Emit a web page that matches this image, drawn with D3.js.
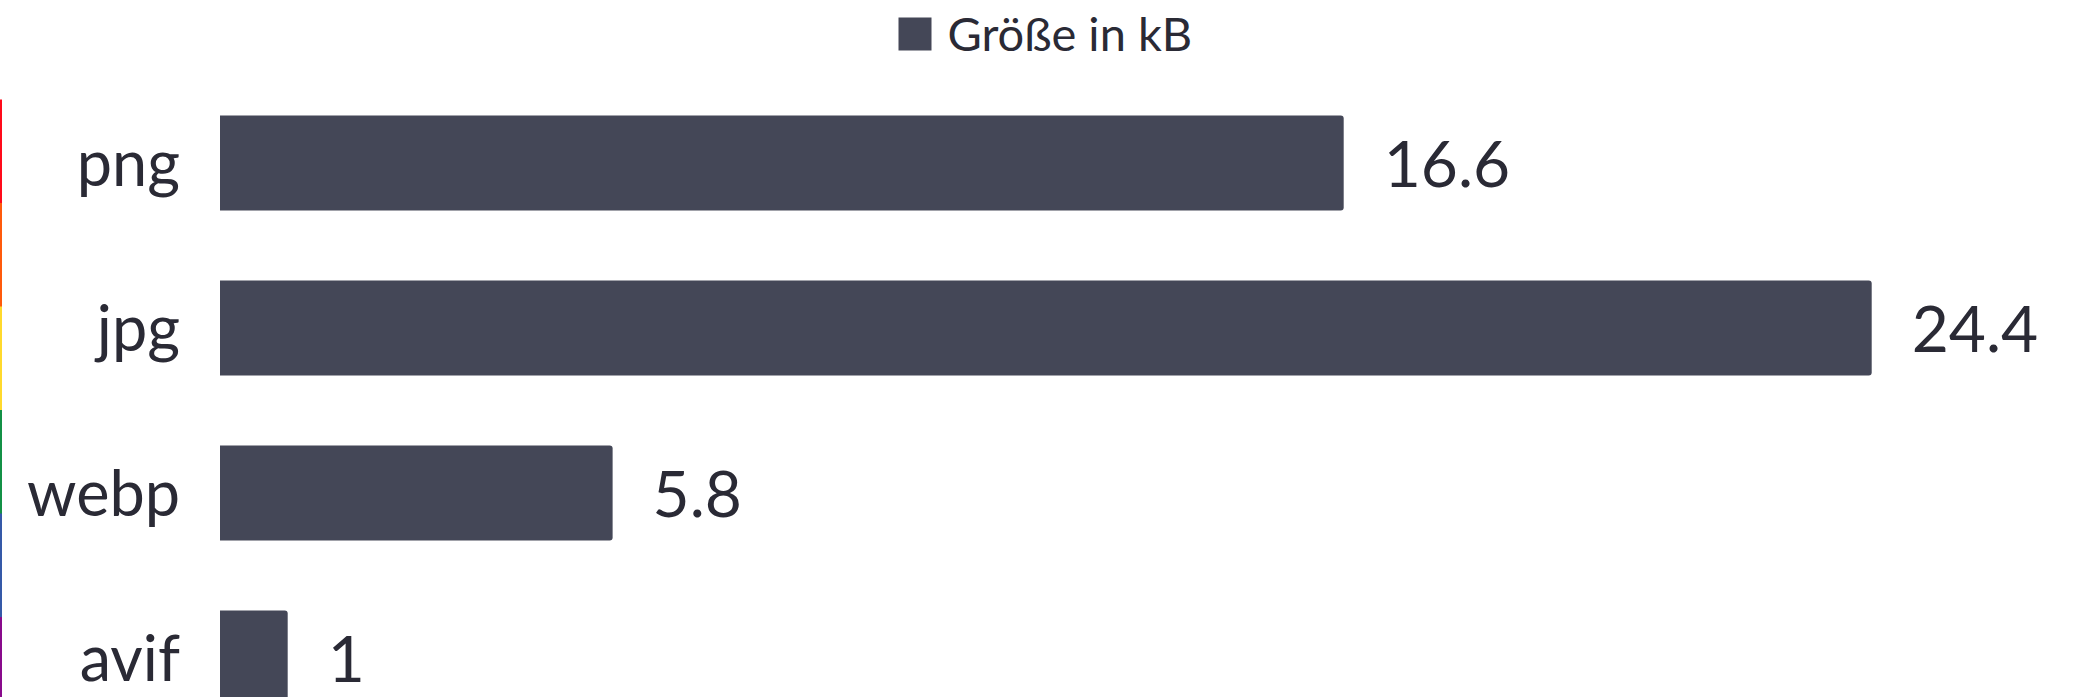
<!DOCTYPE html>
<html>
<head>
<meta charset="utf-8">
<script src="https://cdn.jsdelivr.net/npm/d3@7"></script>
<style>
  html, body { margin: 0; padding: 0; background: #ffffff; overflow: hidden; }
  svg { display: block; font-family: Lato, "Noto Sans", sans-serif; }
</style>
</head>
<body>
<svg id="chart" width="2087" height="697"></svg>
<script>
const categories = ["png", "jpg", "webp", "avif"];
const values = [16.6, 24.4, 5.8, 1];
const seriesName = "Größe in kB";
const rainbowColors = ["#ff0a1a", "#ff5a0c", "#ffd92c", "#139146", "#3559a8", "#890a8c"];

const W = 2087, H = 697;
const barColor = "#444757";
const textColor = "#2a2a35";

const svg = d3.select("#chart");

// rainbow left border
const rainbow = d3.scaleBand().domain(d3.range(rainbowColors.length)).range([99.5, 720.5]);
svg.append("g").selectAll("rect").data(rainbowColors).join("rect")
  .attr("x", 0).attr("width", 2)
  .attr("y", (d, i) => rainbow(i)).attr("height", rainbow.bandwidth() + 0.5)
  .attr("fill", d => d);

// scales
const x = d3.scaleLinear().domain([0, d3.max(values)]).range([220, 1871.7]);
const y = d3.scaleBand().domain(categories).range([80.5, 740.5]).paddingInner(0.424).paddingOuter(0.212);

const r = 3;
function barPath(x0, x1, y0, h) {
  const rr = Math.min(r, (x1 - x0) / 2);
  return `M${x0},${y0}H${x1 - rr}Q${x1},${y0} ${x1},${y0 + rr}V${y0 + h - rr}Q${x1},${y0 + h} ${x1 - rr},${y0 + h}H${x0}Z`;
}

const data = categories.map((c, i) => ({ c, v: values[i] }));

svg.append("g").selectAll("path").data(data).join("path")
  .attr("d", d => barPath(x(0), x(d.v), y(d.c), y.bandwidth()))
  .attr("fill", barColor);

// category axis (labels only)
const yAxis = d3.axisLeft(y).tickSize(0).tickPadding(0);
const gy = svg.append("g").attr("transform", "translate(180,0)").call(yAxis);
gy.select(".domain").remove();
gy.selectAll("text")
  .attr("font-family", "Lato")
  .attr("font-size", 63)
  .attr("fill", textColor)
  .attr("dy", null)
  .attr("y", 23);

// value labels
svg.append("g").selectAll("text").data(data).join("text")
  .attr("x", d => x(d.v) + 40)
  .attr("y", d => y(d.c) + y.bandwidth() / 2 + 24)
  .attr("font-family", "Lato")
  .attr("font-size", 64)
  .attr("fill", textColor)
  .text(d => d3.format("~g")(d.v));

// legend
const lg = svg.append("g");
lg.append("rect").attr("x", 898.5).attr("y", 17.5).attr("width", 33).attr("height", 33).attr("fill", barColor);
lg.append("text").attr("x", 947.5).attr("y", 50.5)
  .attr("font-family", "Lato").attr("font-size", 47).attr("fill", textColor)
  .text(seriesName);
</script>
</body>
</html>
